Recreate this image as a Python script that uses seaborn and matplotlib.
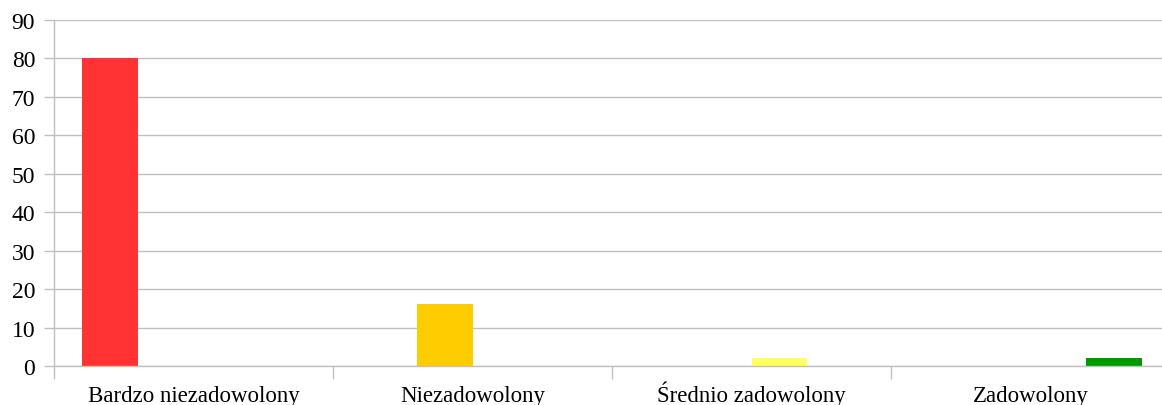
"""
Satisfaction survey - grouped bar chart
"""
import numpy as np
import pandas as pd
import matplotlib
matplotlib.use('Agg')
import matplotlib.pyplot as plt
from matplotlib.ticker import FixedLocator
import seaborn as sns

categories = ['Bardzo niezadowolony', 'Niezadowolony', 'Średnio zadowolony', 'Zadowolony']
series = ['Bardzo niezadowolony', 'Niezadowolony', 'Średnio zadowolony', 'Zadowolony']
s1 = [80, 0, 0, 0]
s2 = [0, 16, 0, 0]
s3 = [0, 0, 2, 0]
s4 = [0, 0, 0, 2]
colors = ['#ff3333', '#ffcc00', '#ffff66', '#009900']
yticks = list(range(0, 91, 10))

GRID = '#c0c0c0'

rows = []
for name, vals in zip(series, [s1, s2, s3, s4]):
    for cat, v in zip(categories, vals):
        rows.append({'cat': cat, 'series': name, 'value': v})
df = pd.DataFrame(rows)

sns.set_style('white')
plt.rcParams['font.family'] = ['Liberation Serif', 'DejaVu Serif']

fig = plt.figure(figsize=(11.62, 4.06), dpi=100)
ax = fig.add_axes([54 / 1162, 39 / 406, 1116 / 1162, 346 / 406])

sns.barplot(data=df, x='cat', y='value', hue='series', order=categories,
            hue_order=series, palette=colors, width=0.8, linewidth=0,
            saturation=1, legend=False, ax=ax)

ax.set_ylim(0, 90)
ax.set_xlim(-0.5, len(categories) - 0.5)
ax.set_yticks(yticks)
ax.yaxis.grid(True, color=GRID, linewidth=1)
ax.set_axisbelow(True)
ax.set_xlabel('')
ax.set_ylabel('')

for s in ['top', 'right']:
    ax.spines[s].set_visible(False)
for s in ['left', 'bottom']:
    ax.spines[s].set_color(GRID)
    ax.spines[s].set_linewidth(1)

ax.tick_params(axis='y', which='major', length=7.5, color=GRID, width=1,
               labelsize=17, pad=6, left=True, labelcolor='black')
ax.tick_params(axis='x', which='major', length=0, labelsize=16.5, pad=25.5,
               labelcolor='black')
# share a common baseline so the accented label does not drop lower
for lbl in ax.get_xticklabels():
    lbl.set_verticalalignment('baseline')
ax.xaxis.set_minor_locator(FixedLocator([-0.5, 0.5, 1.5, 2.5]))
ax.tick_params(axis='x', which='minor', length=9, color=GRID, width=1, bottom=True)

fig.savefig('out.png', dpi=100, facecolor='white')
